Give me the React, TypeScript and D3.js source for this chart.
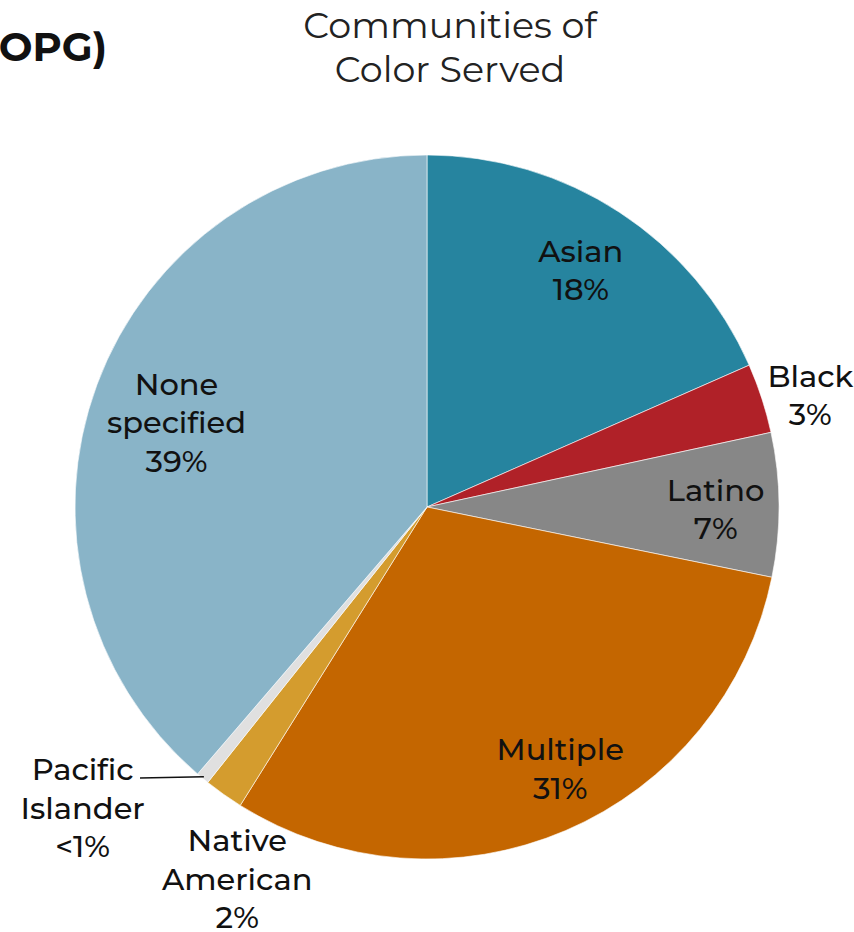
import { useMemo } from 'react'
import * as d3 from 'd3'

const categories = ['Asian', 'Black', 'Latino', 'Multiple', 'Native American', 'Pacific Islander', 'None specified']
const values = [18.4, 3.2, 6.6, 30.7, 1.8, 0.6, 38.7]
const labelLines = [['Asian', '18%'], ['Black', '3%'], ['Latino', '7%'], ['Multiple', '31%'], ['Native', 'American', '2%'], ['Pacific', 'Islander', '<1%'], ['None', 'specified', '39%']]
const colors = ['#26849f', '#b02128', '#878787', '#c46600', '#d49c2e', '#e0e0e0', '#89b4c8']

const W = 854
const H = 932
const cx = 427
const cy = 507
const R = 352
const FONT = "'Montserrat', 'Noto Sans', 'Open Sans', sans-serif"

// label radius factor per slice (outside labels pinned further out)
const labelFactor = [0.8, 1.13, 0.82, 0.83, 1.13, 1.12, 0.75]
const labelShift: [number, number][] = [[0, 0], [5, 12], [0, 5], [18, -6], [40, 48], [-93, -2], [-3, 8]]

export default function App() {
  const arcs = useMemo(() => d3.pie<number>().sort(null).value((d) => d)(values), [])
  const arc = d3.arc<d3.PieArcDatum<number>>().innerRadius(0).outerRadius(R)
  const lineH = 38.5

  return (
    <svg width={W} height={H} style={{ position: 'absolute', left: 0, top: 0, background: '#fff' }} fontFamily={FONT}>
      <text x={107} y={61} textAnchor="end" fontSize={40} fontWeight={700} fill="#111">(OPG)</text>
      <text x={450} y={38} textAnchor="middle" fontSize={36.5} fontWeight={400} fill="#222">Communities of</text>
      <text x={450} y={82} textAnchor="middle" fontSize={36.5} fontWeight={400} fill="#222">Color Served</text>
      <g transform={`translate(${cx},${cy})`}>
        {arcs.map((a, i) => (
          <path key={categories[i]} d={arc(a) ?? ''} fill={colors[i]} stroke="#fff" strokeWidth={0.6} />
        ))}
        {(() => {
          const a = arcs[5]
          const mid = (a.startAngle + a.endAngle) / 2
          const x1 = Math.sin(mid) * (R - 2)
          const y1 = -Math.cos(mid) * (R - 2)
          return <line x1={x1} y1={y1} x2={140 - cx} y2={778 - cy} stroke="#111" strokeWidth={1.5} />
        })()}
        {arcs.map((a, i) => {
          const mid = (a.startAngle + a.endAngle) / 2
          const r = R * labelFactor[i]
          const x = Math.sin(mid) * r + labelShift[i][0]
          const y = -Math.cos(mid) * r + labelShift[i][1]
          const lines = labelLines[i]
          const y0 = y - ((lines.length - 1) * lineH) / 2
          return (
            <text key={categories[i]} x={x} textAnchor="middle" fontSize={30.5} fontWeight={500} fill="#111">
              {lines.map((l, j) => (
                <tspan key={j} x={x} y={y0 + j * lineH + 10}>{l}</tspan>
              ))}
            </text>
          )
        })}
      </g>
    </svg>
  )
}
